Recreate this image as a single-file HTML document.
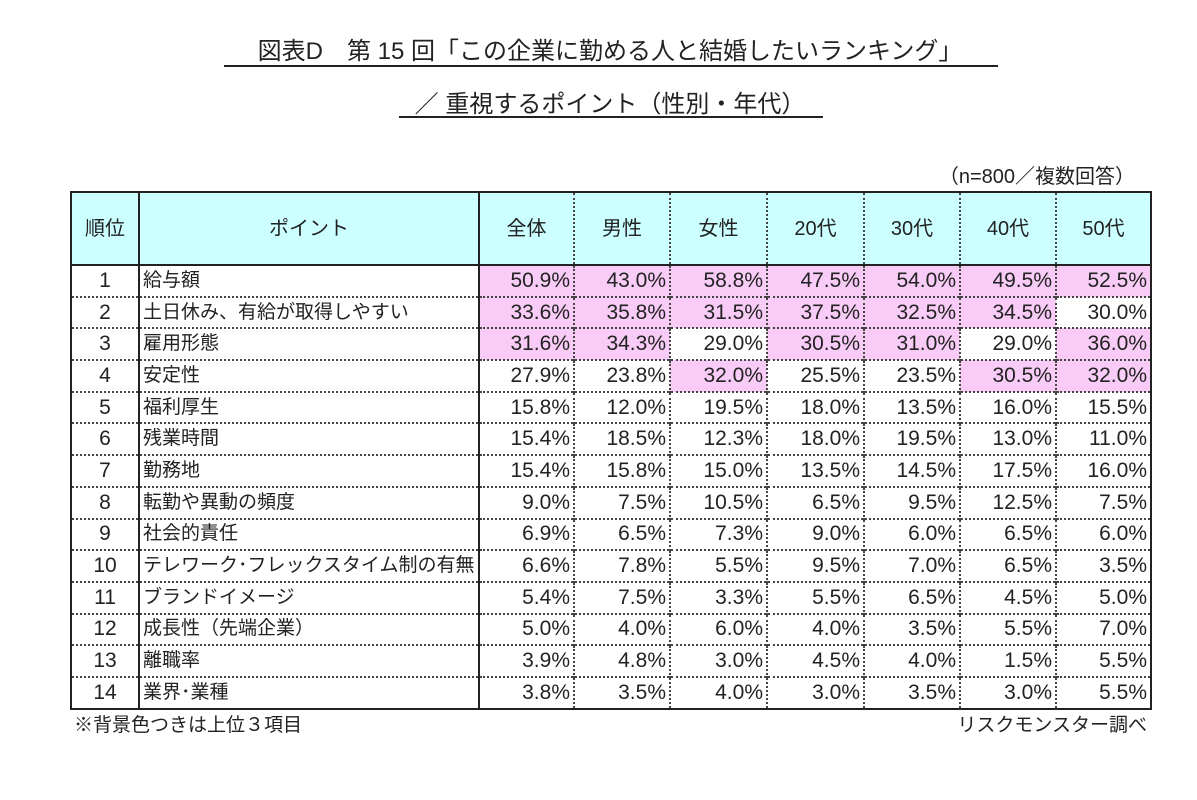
<!DOCTYPE html>
<html><head><meta charset="utf-8"><style>
body{margin:0;width:1197px;height:800px;background:#fff;position:relative;font-family:"Liberation Sans","Noto Sans CJK JP",sans-serif;color:#222;overflow:hidden}
.t{position:absolute;left:0;width:1220px;text-align:center;font-size:24px}
.u{position:absolute;height:2px;background:#222}
table{position:absolute;left:70px;top:191px;border-collapse:collapse;table-layout:fixed;border:2px solid #222}
td{height:29.7px;padding:0 3px;font-size:21px;border-left:2px dotted #444;border-top:2px dotted #444;text-align:right;white-space:nowrap;line-height:26px}
td:nth-child(1){text-align:center;border-left:none}
td:nth-child(2){text-align:left;border-left:2px solid #222;font-size:19px}
td:nth-child(3){border-left:2px solid #222}
tr.h td{height:71px;background:#ccffff;text-align:center;font-size:20px;border-top:none}
tr.f td{border-top:2px solid #222}
.p{background:#f9ccf7}
</style></head><body>
<div class="t" style="top:31px">図表D　第 15 回「この企業に勤める人と結婚したいランキング」</div>
<div class="u" style="left:224px;width:774px;top:65px"></div>
<div class="t" style="top:84px">／ 重視するポイント（性別・年代）</div>
<div class="u" style="left:399px;width:424px;top:116px"></div>
<div style="position:absolute;right:62px;top:160px;font-size:20px">（n=800／複数回答）</div>
<table>
<colgroup><col style="width:68px"><col style="width:340px"><col style="width:95px"><col style="width:96px"><col style="width:97px"><col style="width:97px"><col style="width:96px"><col style="width:96px"><col style="width:95px"></colgroup>
<tr class="h"><td>順位</td><td style="text-align:center">ポイント</td><td>全体</td><td>男性</td><td>女性</td><td>20代</td><td>30代</td><td>40代</td><td>50代</td></tr>
<tr class="f"><td>1</td><td>給与額</td><td class="p">50.9%</td><td class="p">43.0%</td><td class="p">58.8%</td><td class="p">47.5%</td><td class="p">54.0%</td><td class="p">49.5%</td><td class="p">52.5%</td></tr>
<tr><td>2</td><td>土日休み、有給が取得しやすい</td><td class="p">33.6%</td><td class="p">35.8%</td><td class="p">31.5%</td><td class="p">37.5%</td><td class="p">32.5%</td><td class="p">34.5%</td><td>30.0%</td></tr>
<tr><td>3</td><td>雇用形態</td><td class="p">31.6%</td><td class="p">34.3%</td><td>29.0%</td><td class="p">30.5%</td><td class="p">31.0%</td><td>29.0%</td><td class="p">36.0%</td></tr>
<tr><td>4</td><td>安定性</td><td>27.9%</td><td>23.8%</td><td class="p">32.0%</td><td>25.5%</td><td>23.5%</td><td class="p">30.5%</td><td class="p">32.0%</td></tr>
<tr><td>5</td><td>福利厚生</td><td>15.8%</td><td>12.0%</td><td>19.5%</td><td>18.0%</td><td>13.5%</td><td>16.0%</td><td>15.5%</td></tr>
<tr><td>6</td><td>残業時間</td><td>15.4%</td><td>18.5%</td><td>12.3%</td><td>18.0%</td><td>19.5%</td><td>13.0%</td><td>11.0%</td></tr>
<tr><td>7</td><td>勤務地</td><td>15.4%</td><td>15.8%</td><td>15.0%</td><td>13.5%</td><td>14.5%</td><td>17.5%</td><td>16.0%</td></tr>
<tr><td>8</td><td>転勤や異動の頻度</td><td>9.0%</td><td>7.5%</td><td>10.5%</td><td>6.5%</td><td>9.5%</td><td>12.5%</td><td>7.5%</td></tr>
<tr><td>9</td><td>社会的責任</td><td>6.9%</td><td>6.5%</td><td>7.3%</td><td>9.0%</td><td>6.0%</td><td>6.5%</td><td>6.0%</td></tr>
<tr><td>10</td><td>テレワーク･フレックスタイム制の有無</td><td>6.6%</td><td>7.8%</td><td>5.5%</td><td>9.5%</td><td>7.0%</td><td>6.5%</td><td>3.5%</td></tr>
<tr><td>11</td><td>ブランドイメージ</td><td>5.4%</td><td>7.5%</td><td>3.3%</td><td>5.5%</td><td>6.5%</td><td>4.5%</td><td>5.0%</td></tr>
<tr><td>12</td><td>成長性（先端企業）</td><td>5.0%</td><td>4.0%</td><td>6.0%</td><td>4.0%</td><td>3.5%</td><td>5.5%</td><td>7.0%</td></tr>
<tr><td>13</td><td>離職率</td><td>3.9%</td><td>4.8%</td><td>3.0%</td><td>4.5%</td><td>4.0%</td><td>1.5%</td><td>5.5%</td></tr>
<tr><td>14</td><td>業界･業種</td><td>3.8%</td><td>3.5%</td><td>4.0%</td><td>3.0%</td><td>3.5%</td><td>3.0%</td><td>5.5%</td></tr>
</table>
<div style="position:absolute;left:74px;top:710px;font-size:19px">※背景色つきは上位３項目</div>
<div style="position:absolute;right:50px;top:710px;font-size:19px">リスクモンスター調べ</div>
</body></html>
